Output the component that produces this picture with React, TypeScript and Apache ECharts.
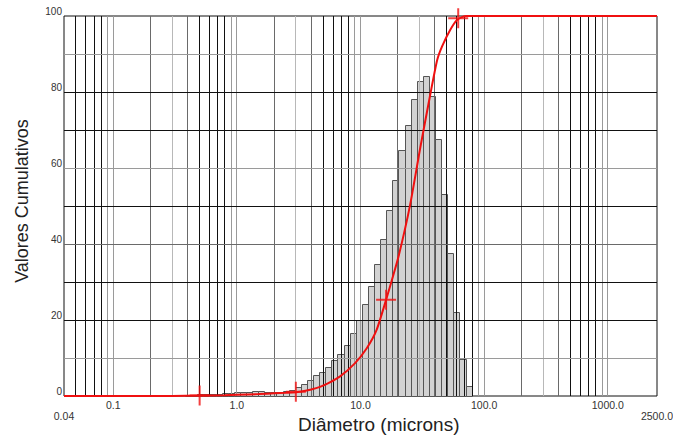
import React, { useEffect, useRef } from 'react';
import * as echarts from 'echarts';

// ---------- data ----------
// histogram class edges (microns) and bar heights
const binEdges = [
  0.3844, 0.4306, 0.4824, 0.5405, 0.6055, 0.6783, 0.7599, 0.8513, 0.9537, 1.068,
  1.197, 1.341, 1.502, 1.683, 1.885, 2.112, 2.366, 2.65, 2.969, 3.326,
  3.726, 4.175, 4.677, 5.239, 5.869, 6.575, 7.366, 8.252, 9.245, 10.36,
  11.6, 13.0, 14.56, 16.31, 18.27, 20.47, 22.93, 25.69, 28.78, 32.24,
  36.12, 40.47, 45.34, 50.79, 56.9, 63.74, 71.41, 80.0,
];
const binValues = [
  0.2, 0.2, 0.3, 0.4, 0.4, 0.5, 0.6, 0.7, 0.9, 1.0,
  1.0, 1.2, 1.3, 1.0, 0.9, 1.0, 1.2, 1.5, 2.2, 3.0,
  4.2, 5.3, 6.3, 7.5, 9.3, 11.0, 13.2, 16.5, 20.0, 24.2,
  28.8, 34.7, 41.2, 48.9, 56.6, 64.6, 71.3, 78.1, 82.7, 84.0,
  78.8, 67.6, 53.1, 37.6, 22.0, 9.7, 2.4,
];

// cumulative curve
const cumX = [0.04, 0.3, 0.5, 0.8, 1.0, 1.5, 2.0, 2.5, 3.0, 3.5, 4.0, 4.7, 5.5, 6.8, 9.0, 11.2, 13.5, 16.1, 17.4, 20.3, 25.2, 30.3, 36.6, 41.7, 45.7, 53.1, 60.1, 66.0, 72.0, 2500];
const cumY = [0, 0, 0.1, 0.2, 0.3, 0.5, 0.7, 0.85, 1.0, 1.3, 1.7, 2.4, 3.4, 5.1, 8.6, 12.5, 17.4, 25.3, 29.0, 36.7, 50.3, 65.0, 79.2, 88.4, 92.0, 96.3, 98.9, 99.7, 100, 100];

// cross markers on the curve
const markerX = [0.5, 3.0, 16.1, 61.7];
const markerY = [0.1, 1.1, 25.3, 99.4];

// grid lines
const xGridValues = [
  0.05, 0.06, 0.07, 0.08, 0.09,
  0.1, 0.2, 0.3, 0.4, 0.5, 0.6, 0.7, 0.8, 0.9,
  1, 2, 3, 4, 5, 6, 7, 8, 9,
  10, 20, 30, 40, 50, 60, 70, 80, 90,
  100, 200, 300, 400, 500, 600, 700, 800, 900,
  1000,
];
const yGridValues = [10, 20, 30, 40, 50, 60, 70, 80, 90];

// tick labels
const xTickValues = [0.04, 0.1, 1, 10, 100, 1000, 2500];
const xTickLabels = ['0.04', '0.1', '1.0', '10.0', '100.0', '1000.0', '2500.0'];
const xLowRowLabels = ['0.04', '2500.0'];
const yTickLabels = ['0', '20', '40', '60', '80', '100'];

const xAxisTitle = 'Diâmetro (microns)';
const yAxisTitle = 'Valores Cumulativos';

// ---------- styles ----------
const FONT = '"Liberation Sans", Arial, sans-serif';
const RED = '#f01010';
const BLACK = '#111111';
const DARK = '#6a6a6a';
const GRAY = '#9a9a9a';
const LIGHT = '#b8b8b8';

function xShade(v: number): string {
  const lead = Math.round(v / Math.pow(10, Math.floor(Math.log10(v) + 1e-9)));
  if (lead === 1) return GRAY;
  if (lead === 2) return DARK;
  if (lead === 3) return LIGHT;
  if (lead === 4) return DARK;
  if (lead === 9) return GRAY;
  return BLACK;
}
function yShade(v: number): string {
  if (v === 10 || v === 60 || v === 90) return GRAY;
  if (v === 40) return DARK;
  return BLACK;
}

function crisp(p: number): number {
  return Math.round(p - 0.5) + 0.5;
}

const CROSS = 'path://M9,0h2v20h-2z M0,9h20v2h-20z';

export default function App() {
  const ref = useRef<HTMLDivElement>(null);

  useEffect(() => {
    if (!ref.current) return;
    const chart = echarts.init(ref.current, null, { renderer: 'svg' });

    const xMin = xTickValues[0];
    const xMax = xTickValues[xTickValues.length - 1];

    const option: any = {
      animation: false,
      grid: {
        left: 64,
        right: 16,
        top: 16,
        bottom: 40,
        show: true,
        borderColor: BLACK,
        borderWidth: 1,
        backgroundColor: 'transparent',
        containLabel: false,
        outerBoundsMode: 'none',
      },
      xAxis: {
        type: 'log',
        logBase: 10,
        min: xMin,
        max: xMax,
        axisLine: { show: false },
        axisTick: { show: false },
        splitLine: { show: false },
        axisLabel: {
          show: true,
          margin: 3,
          fontSize: 10.5,
          fontFamily: FONT,
          color: '#333',
          lineHeight: 11,
          showMinLabel: true,
          showMaxLabel: true,
          formatter: (v: number) => {
            let best = 0;
            let bestD = Infinity;
            xTickValues.forEach((t, i) => {
              const d = Math.abs(Math.log10(t) - Math.log10(v));
              if (d < bestD) { bestD = d; best = i; }
            });
            if (bestD > 0.01) return '';
            const lab = xTickLabels[best];
            return xLowRowLabels.includes(lab) ? '\n' + lab : lab;
          },
        },
      },
      yAxis: {
        type: 'value',
        min: 0,
        max: 100,
        interval: 10,
        axisLine: { show: false },
        axisTick: { show: false },
        splitLine: { show: false },
        axisLabel: {
          margin: 2,
          fontSize: 10,
          fontFamily: FONT,
          color: '#333',
          verticalAlign: 'bottom',
          formatter: (v: number) => (yTickLabels.includes(String(v)) ? String(v) : ''),
        },
      },
      graphic: [
        {
          type: 'text',
          left: 298,
          top: 415,
          silent: true,
          style: { text: xAxisTitle, font: `19px ${FONT}`, fill: '#222' },
        },
        {
          type: 'text',
          x: 22,
          y: 201,
          rotation: Math.PI / 2,
          silent: true,
          style: {
            text: yAxisTitle,
            font: `18px ${FONT}`,
            fill: '#222',
            align: 'center',
            verticalAlign: 'middle',
          },
        },
      ],
      series: [
        {
          type: 'custom',
          name: 'hist',
          z: 2,
          silent: true,
          data: binValues.map((v, i) => [binEdges[i], binEdges[i + 1], v]),
          encode: { x: [0, 1], y: 2 },
          renderItem: (_p: any, api: any) => {
            const a = api.coord([api.value(0), api.value(2)]);
            const b = api.coord([api.value(1), 0]);
            const x0 = crisp(a[0]);
            const x1 = crisp(b[0]);
            const y0 = crisp(a[1]);
            const y1 = crisp(b[1]);
            return {
              type: 'rect',
              shape: { x: x0, y: y0, width: x1 - x0, height: y1 - y0 },
              style: { fill: '#d2d2d2', stroke: '#555', lineWidth: 1 },
            };
          },
        },
        {
          type: 'custom',
          name: 'xgrid',
          z: 3,
          silent: true,
          data: xGridValues.map((v) => [v, 0]),
          encode: { x: 0, y: 1 },
          renderItem: (_p: any, api: any) => {
            const v = api.value(0);
            const a = api.coord([v, 0]);
            const b = api.coord([v, 100]);
            const x = crisp(a[0]);
            return {
              type: 'line',
              shape: { x1: x, y1: a[1], x2: x, y2: b[1] },
              style: { stroke: xShade(v), lineWidth: 1 },
            };
          },
        },
        {
          type: 'custom',
          name: 'ygrid',
          z: 3,
          silent: true,
          data: yGridValues.map((v) => [xMin, v]),
          encode: { x: 0, y: 1 },
          renderItem: (_p: any, api: any) => {
            const v = api.value(1);
            const a = api.coord([xMin, v]);
            const b = api.coord([xMax, v]);
            const y = crisp(a[1]);
            return {
              type: 'line',
              shape: { x1: a[0], y1: y, x2: b[0], y2: y },
              style: { stroke: yShade(v), lineWidth: 1 },
            };
          },
        },
        {
          type: 'line',
          name: 'cum',
          z: 4,
          silent: true,
          data: cumX.map((x, i) => [x, cumY[i]]),
          showSymbol: false,
          symbol: 'none',
          smooth: 0.2,
          lineStyle: { color: RED, width: 2 },
        },
        {
          type: 'scatter',
          name: 'marks',
          z: 5,
          silent: true,
          data: markerX.map((x, i) => [x, markerY[i]]),
          symbol: CROSS,
          symbolSize: 20,
          itemStyle: { color: RED },
        },
      ],
    };

    chart.setOption(option);
    return () => chart.dispose();
  }, []);

  return (
    <div
      ref={ref}
      style={{ position: 'fixed', left: 0, top: 0, width: 673, height: 436, background: '#fff' }}
    />
  );
}
